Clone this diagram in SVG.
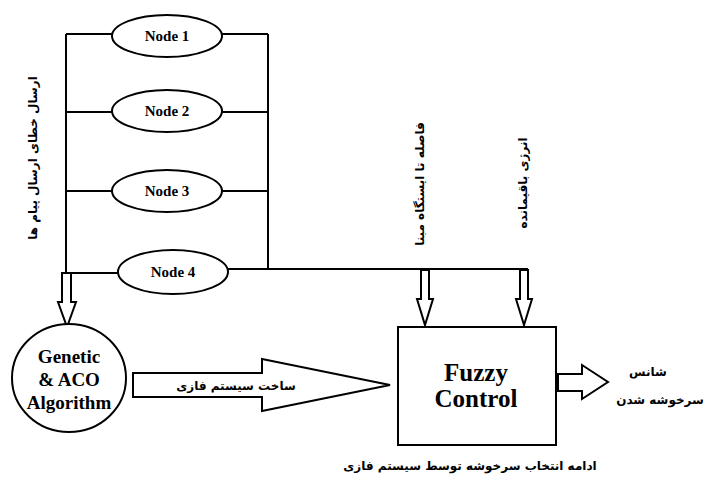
<svg xmlns="http://www.w3.org/2000/svg" width="706" height="478" viewBox="0 0 706 478">
<style>
.ln{fill:none;stroke:#000;stroke-width:2}
.sh{fill:#fff;stroke:#000;stroke-width:2;stroke-linejoin:miter}
.nt{font-family:"Liberation Serif",serif;font-weight:bold;font-size:15px;text-anchor:middle;fill:#000}
.bt{font-family:"Liberation Serif",serif;font-weight:bold;text-anchor:middle;fill:#000}
.fa{font-family:"DejaVu Sans",sans-serif;font-weight:bold;font-size:12px;text-anchor:middle;fill:#000}
</style>
<rect width="706" height="478" fill="#fff"/>
<g id="connectors">
<path class="ln" d="M66,34 V273 M268,34 V269"/>
<path class="ln" d="M66,34 H112 M222,34 H268"/>
<path class="ln" d="M66,112 H112 M222,112 H268"/>
<path class="ln" d="M66,191 H112 M222,191 H268"/>
<path class="ln" d="M66,273 H118 M228,269 H528"/>
<polygon class="sh" points="62,273 71,273 71,302 76,302 67,327 58,302 62,302"/>
<polygon class="sh" points="421,270 429,270 429,299 433,299 425,325 417,299 421,299"/>
<polygon class="sh" points="520,270 528,270 528,299 532,299 524,325 516,299 520,299"/>
<polygon class="sh" points="133,373 262,373 262,359 390,385 262,411 262,397 133,397"/>
<polygon class="sh" points="558,374 582,374 582,365 608,382 582,399 582,391 558,391"/>
</g>
<g id="node1"><ellipse class="sh" cx="167" cy="36" rx="55" ry="21"/><text class="nt" x="167" y="41">Node 1</text></g>
<g id="node2"><ellipse class="sh" cx="167" cy="111" rx="55" ry="21"/><text class="nt" x="167" y="116">Node 2</text></g>
<g id="node3"><ellipse class="sh" cx="167" cy="191" rx="55" ry="21"/><text class="nt" x="167" y="196">Node 3</text></g>
<g id="node4"><ellipse class="sh" cx="173" cy="272" rx="55" ry="22"/><text class="nt" x="173" y="277">Node 4</text></g>
<g id="algorithm"><ellipse class="sh" cx="69" cy="378" rx="57" ry="54"/>
<text class="bt" font-size="19" x="69" y="363">Genetic</text>
<text class="bt" font-size="19" x="69" y="386">&amp; ACO</text>
<text class="bt" font-size="19" x="69" y="409">Algorithm</text></g>
<g id="fuzzy"><rect class="sh" x="398" y="327" width="158" height="118"/>
<text class="bt" font-size="25" x="476" y="381">Fuzzy</text>
<text class="bt" font-size="25" x="476" y="407">Control</text></g>
<g id="labels">
<text class="fa" font-size="11.6" transform="translate(32,158) rotate(-90)" dy="4.5">ارسال خطای ارسال پیام ها</text>
<text class="fa" font-size="11.8" transform="translate(419,184) rotate(-90)" dy="4.5">فاصله تا ایستگاه مبنا</text>
<text class="fa" transform="translate(522,183) rotate(-90)" dy="4.5">انرژی باقیمانده</text>
<text class="fa" font-size="13" x="236" y="390">ساخت سیستم فازی</text>
<text class="fa" font-size="12.5" x="648" y="376">شانس</text>
<text class="fa" font-size="12" x="660" y="404">سرخوشه شدن</text>
<text class="fa" font-size="12.2" x="470" y="470">ادامه انتخاب سرخوشه توسط سیستم فازی</text>
</g>
</svg>
